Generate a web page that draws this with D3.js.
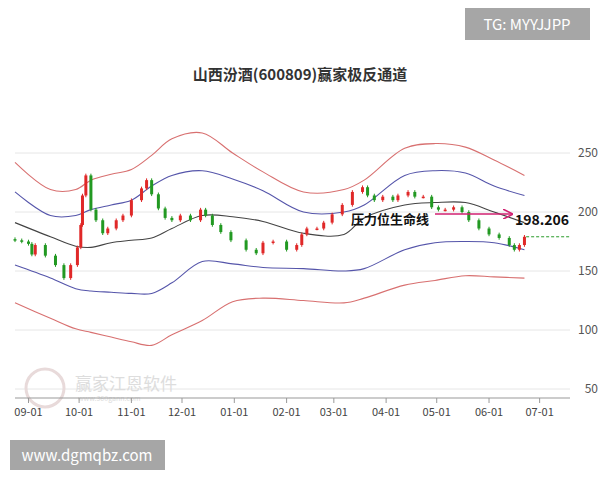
<!DOCTYPE html>
<html><head><meta charset="utf-8">
<script src="https://cdn.jsdelivr.net/npm/d3@7"></script>
<style>body{margin:0;background:#fff}svg{font-family:"Noto Sans CJK SC","Noto Sans",sans-serif}</style>
</head><body><svg id="chart" width="600" height="480"></svg>
<script>
// daily-ish closes
const dates = ['2022-08-24','2022-08-28','2022-09-01','2022-09-03','2022-09-05','2022-09-11','2022-09-17','2022-09-22','2022-09-26','2022-09-30','2022-10-02','2022-10-03','2022-10-05','2022-10-08','2022-10-11','2022-10-15','2022-10-18','2022-10-23','2022-10-27','2022-11-01','2022-11-07','2022-11-10','2022-11-13','2022-11-17','2022-11-21','2022-11-25','2022-11-30','2022-12-06','2022-12-12','2022-12-15','2022-12-19','2022-12-24','2022-12-30','2023-01-08','2023-01-14','2023-01-18','2023-01-24','2023-02-01','2023-02-07','2023-02-10','2023-02-13','2023-02-19','2023-02-23','2023-02-28','2023-03-06','2023-03-12','2023-03-18','2023-03-21','2023-03-25','2023-03-30','2023-04-05','2023-04-08','2023-04-14','2023-04-18','2023-04-23','2023-04-28','2023-05-02','2023-05-06','2023-05-11','2023-05-16','2023-05-20','2023-05-26','2023-06-01','2023-06-07','2023-06-13','2023-06-16','2023-06-19','2023-06-22']
const closes = [176,175,173,164,172,163,155,144,155,170,189,214,231,202,193,182,186,193,197,210,220,227,215,203,195,193,197,193,202,197,189,183,176,168,165,174,175,168,172,181,186,186,191,198,206,217,221,214,210,213,210,214,217,213,213,204,202,202,204,200,193,186,181,178,172,168,172,179]

// channel lines
const bandDates = ['2022-08-24','2022-09-14','2022-09-29','2022-10-08','2022-10-20','2022-11-01','2022-11-13','2022-11-25','2022-12-13','2022-12-31','2023-01-18','2023-02-11','2023-03-07','2023-03-19','2023-04-12','2023-04-30','2023-05-18','2023-06-04','2023-06-22']
const upper2 = [242,219,219,227,232,236,248,262,267,250,234,217,219,227,254,258,255,244,231]
const upper1 = [217,197,197,202,206,210,222,231,235,228,218,200,200,206,231,235,233,222,214]
const middle = [191,179,171,170,174,176,178,186,197,196,192,182,181,195,206,208,208,200,191]
const lower1 = [155,144,135,133,132,131,131,140,158,156,153,152,150,152,168,174,175,174,168]
const lower2 = [123,110,101,98,94,90,87,96,108,124,127,125,123,127,138,142,146,145,144]

const yTicks = [50,100,150,200,250]
const monthTicks = ['2022-09-01','2022-10-01','2022-11-01','2022-12-01','2023-01-01','2023-02-01','2023-03-01','2023-04-01','2023-05-01','2023-06-01','2023-07-01']
const lastClose = 179
const pressure = 198.206

const svg = d3.select('#chart')
const parse = d3.timeParse('%Y-%m-%d')
const x = d3.scaleTime().domain([parse('2022-08-24'), parse('2023-07-19')]).range([15, 570])
const y = d3.scaleLinear().domain([50, 250]).range([389, 153])

// title
svg.append('text').attr('x', 300).attr('y', 80).attr('text-anchor', 'middle')
  .attr('font-size', 15).attr('font-weight', 'bold').attr('fill', '#333').text('山西汾酒(600809)赢家极反通道')

// grid + y labels
yTicks.forEach(v => {
  svg.append('line').attr('x1', 15).attr('x2', 570).attr('y1', y(v)).attr('y2', y(v)).attr('stroke', '#e6e6e6')
  svg.append('text').attr('x', 598).attr('y', y(v) + 4).attr('text-anchor', 'end')
    .attr('font-size', 12).attr('fill', '#555').text(v)
})

// watermark
svg.append('text').attr('x', 75).attr('y', 390).attr('font-size', 17).attr('fill', '#ddd').text('赢家江恩软件')
svg.append('text').attr('x', 78).attr('y', 401).attr('font-size', 7).attr('fill', '#ddd').text('www.360gann.com')
svg.append('circle').attr('cx', 45).attr('cy', 388).attr('r', 19).attr('fill', 'none').attr('stroke', '#e8dada').attr('stroke-width', 3)

// x axis
svg.append('line').attr('x1', 15).attr('x2', 570).attr('y1', 398).attr('y2', 398).attr('stroke', '#999')
monthTicks.forEach(d => {
  const px = x(parse(d))
  svg.append('line').attr('x1', px).attr('x2', px).attr('y1', 398).attr('y2', 403).attr('stroke', '#999')
  svg.append('text').attr('x', px).attr('y', 416).attr('text-anchor', 'middle')
    .attr('font-size', 11).attr('fill', '#444').text(d3.timeFormat('%m-%d')(parse(d)))
})

// bands
const line = d3.line().x((d, i) => x(parse(bandDates[i]))).y(d => y(d)).curve(d3.curveCatmullRom)
;[[upper2, '#d87070'], [upper1, '#5555aa'], [middle, '#444'], [lower1, '#5555aa'], [lower2, '#d87070']].forEach(([s, c]) => {
  svg.append('path').attr('d', line(s)).attr('fill', 'none').attr('stroke', c).attr('stroke-width', 1.1)
})

// candles
const candles = closes.map((c, i) => ({ d: parse(dates[i]), o: i ? closes[i - 1] : c + 1, c }))
const g = svg.append('g')
candles.forEach(k => {
  const col = k.c >= k.o ? '#e02828' : '#229922'
  const hi = Math.max(k.o, k.c) + 1.5, lo = Math.min(k.o, k.c) - 1.5
  g.append('line').attr('x1', x(k.d)).attr('x2', x(k.d)).attr('y1', y(hi)).attr('y2', y(lo)).attr('stroke', col)
  const top = y(Math.max(k.o, k.c)), h = Math.max(1.5, y(Math.min(k.o, k.c)) - top)
  g.append('rect').attr('x', x(k.d) - 1.5).attr('y', top).attr('width', 3).attr('height', h).attr('fill', col)
})

// last close dotted line
svg.append('line').attr('x1', x(parse('2023-06-23'))).attr('x2', 570).attr('y1', y(lastClose)).attr('y2', y(lastClose))
  .attr('stroke', '#2a9a2a').attr('stroke-dasharray', '3,2')

// annotation
svg.append('defs').append('marker').attr('id', 'ah').attr('viewBox', '0 0 10 10').attr('refX', 9).attr('refY', 5)
  .attr('markerWidth', 7).attr('markerHeight', 7).attr('orient', 'auto')
  .append('path').attr('d', 'M0,0L10,5L0,10').attr('fill', 'none').attr('stroke', '#d02070').attr('stroke-width', 1.5)
svg.append('text').attr('x', 351).attr('y', 224).attr('font-size', 13).attr('font-weight', 'bold').attr('fill', '#111').text('压力位生命线')
svg.append('line').attr('x1', 435).attr('x2', 512).attr('y1', y(pressure)).attr('y2', y(pressure))
  .attr('stroke', '#d02070').attr('stroke-width', 1.5).attr('marker-end', 'url(#ah)')
svg.append('text').attr('x', 515).attr('y', 225).attr('font-size', 14).attr('font-weight', 'bold').attr('fill', '#111').text(pressure)

// corner labels
svg.append('rect').attr('x', 465).attr('y', 8).attr('width', 125).attr('height', 32).attr('fill', '#a6a6a6')
svg.append('text').attr('x', 527).attr('y', 30).attr('text-anchor', 'middle').attr('font-size', 15).attr('fill', '#fff').text('TG: MYYJJPP')
svg.append('rect').attr('x', 10).attr('y', 440).attr('width', 155).attr('height', 30).attr('fill', '#a6a6a6')
svg.append('text').attr('x', 87).attr('y', 461).attr('text-anchor', 'middle').attr('font-size', 15).attr('fill', '#fff').text('www.dgmqbz.com')
</script></body></html>
